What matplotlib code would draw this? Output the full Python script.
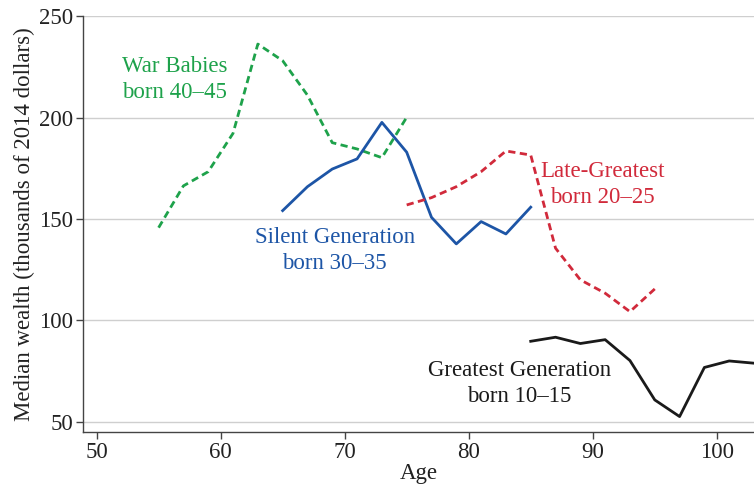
import matplotlib
matplotlib.use("Agg")
import matplotlib.pyplot as plt

plt.rcParams['font.family'] = ['Liberation Serif', 'DejaVu Serif']

# median wealth by age, thousands of 2014 dollars
war_ages = [55, 57, 59, 61, 63, 65, 67, 69, 71, 73, 75]
war_vals = [145.7, 166.3, 173.3, 192.2, 236.2, 228.0, 211.0, 187.6, 184.5, 180.2, 200.1]

silent_ages = [65, 67, 69, 71, 73, 75, 77, 79, 81, 83, 85]
silent_vals = [154.1, 165.9, 174.6, 179.6, 197.6, 182.9, 150.8, 137.7, 148.7, 142.6, 155.8]

late_ages = [75, 77, 79, 81, 83, 85, 87, 89, 91, 93, 95]
late_vals = [156.9, 160.5, 165.9, 173.3, 183.5, 181.5, 135.6, 120.0, 113.4, 104.3, 115.5]

greatest_ages = [85, 87, 89, 91, 93, 95, 97, 99, 101, 103]
greatest_vals = [89.7, 91.7, 88.6, 90.5, 80.2, 60.8, 52.6, 76.8, 80.0, 78.9]

green = '#1ea24b'
blue = '#1d55a6'
red = '#d12a3b'
black = '#1a1a1a'

fig = plt.figure(figsize=(7.54, 4.87), dpi=100)
ax = fig.add_axes([0.110, 0.113, 0.890, 0.854])

lw = 2.0
ax.plot(war_ages, war_vals, color=green, lw=lw, dashes=(2.6, 1.6))
ax.plot(silent_ages, silent_vals, color=blue, lw=lw)
ax.plot(late_ages, late_vals, color=red, lw=lw, dashes=(2.6, 1.6))
ax.plot(greatest_ages, greatest_vals, color=black, lw=lw)

fs = 16.5
ls = 1.32
ax.text(56.3, 218.7, "War Babies\nborn 40\u201345", color=green, fontsize=fs,
        ha='center', va='center', linespacing=ls)
ax.text(69.2, 134.5, "Silent Generation\nborn 30\u201335", color=blue, fontsize=fs,
        ha='center', va='center', linespacing=ls)
ax.text(90.8, 167.0, "Late-Greatest\nborn 20\u201325", color=red, fontsize=fs,
        ha='center', va='center', linespacing=ls)
ax.text(84.1, 68.7, "Greatest Generation\nborn 10\u201315", color=black, fontsize=fs,
        ha='center', va='center', linespacing=ls)

ax.set_xlim(48.9, 103.0)
ax.set_ylim(45, 250)
ax.set_xticks([50, 60, 70, 80, 90, 100])
ax.set_yticks([50, 100, 150, 200, 250])
ax.grid(axis='y', color='#cfcfcf', lw=1.0)
ax.set_axisbelow(True)

for s in ['top', 'right']:
    ax.spines[s].set_visible(False)
for s in ['left', 'bottom']:
    ax.spines[s].set_color('#444444')
    ax.spines[s].set_linewidth(1.0)
ax.tick_params(colors='#444444', labelcolor='#222222', labelsize=16.5, length=5, width=1.0, pad=2)

ax.set_xlabel("Age", fontsize=16.5, color='#222222', labelpad=0)
ax.set_ylabel("Median wealth (thousands of 2014 dollars)", fontsize=16.5, color='#222222', labelpad=3)

fig.savefig("out.png", dpi=100)
